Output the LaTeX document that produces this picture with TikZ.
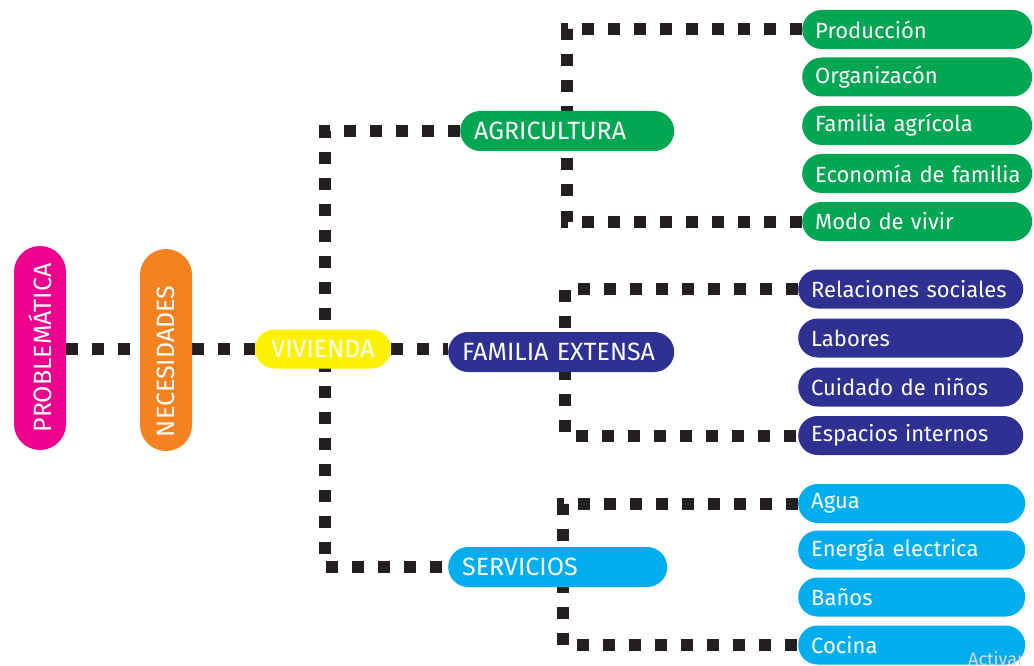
\documentclass[tikz,border=0pt]{standalone}
\usepackage{fontspec}
\setmainfont{Fira Sans}[WordSpace=0.4]
\usetikzlibrary{backgrounds}
\definecolor{cmag}{HTML}{EC008C}
\definecolor{corg}{HTML}{F58220}
\definecolor{cyel}{HTML}{FFF200}
\definecolor{cgrn}{HTML}{00A651}
\definecolor{cdbl}{HTML}{2E3192}
\definecolor{clbl}{HTML}{00AEEF}
\definecolor{cdot}{HTML}{231F20}
\begin{document}
\begin{tikzpicture}[x=1pt,y=-1pt,
  pill/.style={rounded corners=19.5pt, text=white, inner ysep=0pt, minimum height=39pt},
  leaf/.style={pill, anchor=west, align=left, inner xsep=13pt, font=\fontsize{22}{26}\selectfont},
  midbox/.style={pill, anchor=west, align=left, inner xsep=14pt, minimum height=40pt, rounded corners=20pt, font=\fontsize{25}{28}\selectfont},
  vbox/.style={rounded corners=26pt, text=white, inner ysep=0pt, inner xsep=14pt, rotate=90, minimum height=52pt, font=\fontsize{25}{28}\selectfont},
  dots/.style={draw=cdot, line width=12pt, dash pattern=on 12pt off 14pt}]
\useasboundingbox (0,0) rectangle (1034,666);
% left column
\node[vbox, fill=cmag, text width=176pt, align=center] (prob) at (40,348) {PROBLEMÁTICA};
\node[vbox, fill=corg, text width=174pt, align=left] (nec) at (166,350) {NECESIDADES};
\node[pill, fill=cyel, minimum width=136pt, font=\fontsize{25}{28}\selectfont] (viv) at (323,349) {VIVIENDA};
% middle
\node[midbox, fill=cgrn, text width=186pt] (agr) at (460,131) {AGRICULTURA};
\node[midbox, fill=cdbl, text width=198pt] (fam) at (448,352) {\mbox{FAMILIA EXTENSA}};
\node[midbox, fill=clbl, text width=191pt] (serv) at (448,567) {SERVICIOS};
% green leaves
\node[leaf, fill=cgrn, text width=204pt] (g1) at (802,29.5) {Producción};
\node[leaf, fill=cgrn, text width=204pt] (g2) at (802,77) {Organizacón};
\node[leaf, fill=cgrn, text width=204pt] (g3) at (802,125.5) {\mbox{Familia agrícola}};
\node[leaf, fill=cgrn, text width=204pt] (g4) at (802,173.5) {\mbox{Economía de familia}};
\node[leaf, fill=cgrn, text width=204pt] (g5) at (802,221.5) {\mbox{Modo de vivir}};
% blue leaves
\node[leaf, fill=cdbl, text width=199pt] (b1) at (798,289) {\mbox{Relaciones sociales}};
\node[leaf, fill=cdbl, text width=199pt] (b2) at (798,338) {Labores};
\node[leaf, fill=cdbl, text width=199pt] (b3) at (798,387) {\mbox{Cuidado de niños}};
\node[leaf, fill=cdbl, text width=199pt] (b4) at (798,435.5) {\mbox{Espacios internos}};
% light blue leaves
\node[leaf, fill=clbl, text width=201pt] (l1) at (798,503.5) {Agua};
\node[leaf, fill=clbl, text width=201pt] (l2) at (798,550) {\mbox{Energía electrica}};
\node[leaf, fill=clbl, text width=201pt] (l3) at (798,597) {Baños};
\node[leaf, fill=clbl, text width=201pt] (l4) at (798,645) {Cocina};
% bus coordinates
\coordinate (trunk) at (325,349);
\coordinate (agrbus) at (567,131);
\coordinate (fambus) at (565,352);
\coordinate (servbus) at (563,567);
\node[text=black!15, anchor=west, inner sep=0pt, font=\fontsize{18}{20}\selectfont] (wm) at (968,659) {Activar};
\begin{scope}[on background layer]
\fill[white] (0,0) rectangle (1034,666);
\draw[dots] (prob.south |- viv.west) -- (nec.north |- viv.west);
\draw[dots] (nec.south |- viv.west) -- (viv.west);
\draw[dots] (viv.east) -- (viv.east -| fam.west);
\draw[dots] (agr.west) -| (trunk) |- (serv.west);
\draw[dots] (g1.west) -| (agrbus) |- (g5.west);
\draw[dots] (b1.west) -| (fambus) |- (b4.west);
\draw[dots] (l1.west) -| (servbus) |- (l4.west);
\end{scope}
\end{tikzpicture}
\end{document}
